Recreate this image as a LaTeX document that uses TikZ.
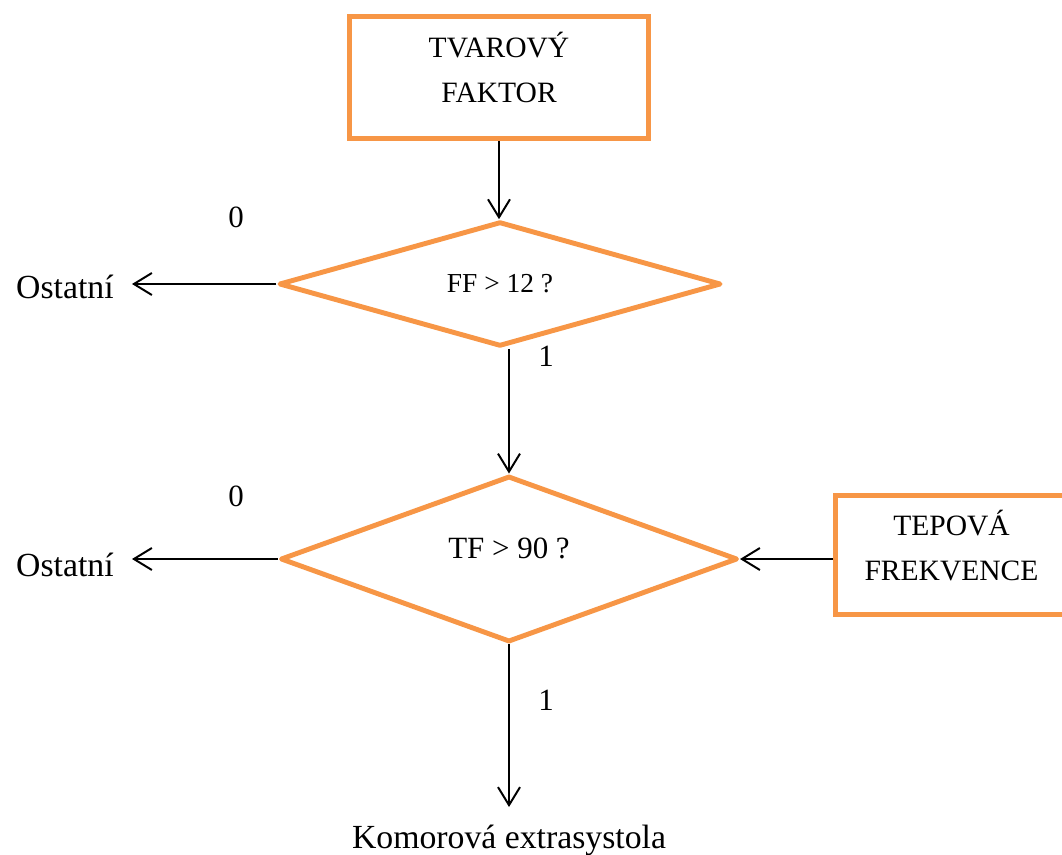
\documentclass[tikz,border=0pt]{standalone}
\usepackage{fontspec}
\setmainfont{Liberation Serif}
\usetikzlibrary{shapes.geometric}
\usetikzlibrary{arrows.meta}
\definecolor{oranz}{HTML}{F79646}

\begin{document}
\begin{tikzpicture}[x=0.025cm, y=-0.025cm, font=\fontsize{22}{32}\selectfont]
	\def\lw{3.5pt}
	\tikzset{
		blok/.style={draw=oranz, line width=\lw, fill=white, align=center, inner sep=0pt, text depth=0.5cm, font=\fontsize{21}{32}\selectfont},
		rozhod/.style={diamond, draw=oranz, line width=\lw, line join=round, fill=white, inner sep=0pt},
		sipka/.style={-{Straight Barb[length=0.45cm, width=0.55cm]}, line width=1.4pt},
		vystup/.style={inner xsep=0.45cm, anchor=east, font=\fontsize{24}{30}\selectfont},
	}
	\useasboundingbox (0, 0) rectangle (1062, 854);

	% bloky
	\node[blok, minimum width=7.475cm, minimum height=3.05cm] (tvar) at (499, 77.5) {TVAROVÝ\\FAKTOR};
	\node[blok, minimum width=5.8cm, minimum height=2.975cm] (tep) at (951.5, 555) {TEPOVÁ\\FREKVENCE};

	% rozhodovani
	\node[rozhod, minimum width=11.05cm, minimum height=2.975cm, font=\fontsize{19.5}{22}\selectfont] (ff) at (500, 284) {FF > 12 ?};
	\node[rozhod, minimum width=11.425cm, minimum height=4.15cm, text depth=0.55cm] (tf) at (509, 559) {TF > 90 ?};

	% vystupy
	\node[vystup] (ost1) at (132, 287) {Ostatní};
	\node[vystup] (ost2) at (132, 565) {Ostatní};
	\node[anchor=north, inner ysep=0.44cm, font=\fontsize{24}{30}\selectfont] (kom) at (509, 807) {Komorová extrasystola};

	\node (ne1) at (236, 217) {0};
	\node (ne2) at (236, 496) {0};
	\node (ano1) at (546, 356) {1};
	\node (ano2) at (546, 700) {1};

	% sipky
	\draw[sipka] (tvar.south) -- (tvar.south |- ff.north);
	\draw[sipka] (ff.west) -- (ff.west -| ost1.east);
	\draw[sipka] (tf.north |- ff.south) -- (tf.north);
	\draw[sipka] (tf.west) -- (tf.west -| ost2.east);
	\draw[sipka] (tep.west |- tf.east) -- (tf.east);
	\draw[sipka] (tf.south) -- (tf.south |- kom.north);

\end{tikzpicture}
\end{document}
